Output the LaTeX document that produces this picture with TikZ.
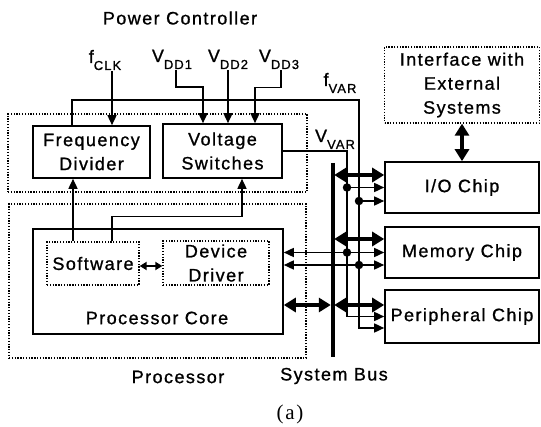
\documentclass[tikz,border=0pt]{standalone}
\usepackage{fontspec}
\usetikzlibrary{arrows.meta}
\newfontfamily\diagfont{Liberation Sans}[LetterSpace=8,FakeBold=1]
\newfontfamily\capfont{Liberation Serif}[LetterSpace=8]
\newcommand{\lowsub}[1]{\raisebox{-7pt}{\fontsize{13}{13}\selectfont #1}}

\begin{document}
\begin{tikzpicture}[x=1pt,y=-1pt,
  lbl/.style={font=\diagfont\fontsize{18}{24}\selectfont,inner sep=1pt,align=center},
  blockbox/.style={draw,line width=1.6pt,lbl},
  dotbox/.style={draw,line width=1.3pt,dash pattern=on 1.3pt off 1.5pt},
  wire/.style={line width=1.5pt},
  sig/.style={wire,-{Triangle[length=10pt,width=9pt]}},
  sigboth/.style={wire,{Triangle[length=10pt,width=9pt]}-{Triangle[length=10pt,width=9pt]}},
  busarr/.style={line width=3.8pt,{Triangle[length=12pt,width=14pt]}-{Triangle[length=12pt,width=14pt]}},
  smallarr/.style={line width=2pt,{Triangle[length=7pt,width=8pt]}-{Triangle[length=7pt,width=8pt]}},
  junc/.style={circle,fill,inner sep=0pt,minimum size=8.5pt}]
  \useasboundingbox (0,0) rectangle (541,427);

  % dotted groups
  \node[dotbox,minimum width=299pt,minimum height=78pt] (pctrl) at (157.5,153) {};
  \node[dotbox,minimum width=297pt,minimum height=154pt] (proc) at (157.5,281) {};
  \node[dotbox,lbl,minimum width=155pt,minimum height=76pt] (iface) at (462,85) {Interface with\\External\\Systems};

  % power controller blocks
  \node[blockbox,minimum width=117pt,minimum height=52pt] (fdiv) at (91.5,152) {Frequency\\Divider};
  \node[blockbox,minimum width=119pt,minimum height=54pt] (vsw) at (222.5,151) {Voltage\\Switches};

  % processor core
  \node[blockbox,minimum width=250pt,minimum height=105pt] (pcore) at (158,281.5) {};
  \node[lbl] (pcorename) at (157,318) {Processor Core};
  \node[dotbox,lbl,minimum width=92pt,minimum height=43pt] (soft) at (93,263.5) {Software};
  \node[dotbox,lbl,minimum width=106pt,minimum height=44pt] (ddrv) at (216,263) {Device\\Driver};

  % chips
  \node[blockbox,minimum width=154pt,minimum height=51pt] (iochip) at (462,187.5) {I/O Chip};
  \node[blockbox,minimum width=154pt,minimum height=51pt] (memchip) at (462,252.5) {Memory Chip};
  \node[blockbox,minimum width=154pt,minimum height=53pt] (perchip) at (462,316.5) {Peripheral Chip};

  % labels
  \node[lbl] (pctrlname) at (180,18) {Power Controller};
  \node[lbl,anchor=base] (fclk) at (105,63) {f\lowsub{CLK}};
  \node[lbl,anchor=base] (vdd1) at (172,62) {V\lowsub{DD1}};
  \node[lbl,anchor=base] (vdd2) at (228,62) {V\lowsub{DD2}};
  \node[lbl,anchor=base] (vdd3) at (279,62) {V\lowsub{DD3}};
  \node[lbl,anchor=base] (fvar) at (340,86) {f\lowsub{VAR}};
  \node[lbl,anchor=base] (vvar) at (335,142) {V\lowsub{VAR}};
  \node[lbl] (procname) at (178,377) {Processor};
  \node[lbl] (busname) at (334,376) {System Bus};
  \node[font=\capfont\fontsize{21}{24}\selectfont] (caption) at (290,414) {(a)};

  % supply and clock inputs
  \draw[sig] ([xshift=7pt]fclk.south) -- ([xshift=7pt]fclk.south |- fdiv.north);
  \draw[sig] ([xshift=4pt]vdd1.south) -- ++(0,17) -| ([xshift=-19.5pt]vsw.north);
  \draw[sig] (vdd2.south) -- (vdd2.south |- vsw.north);
  \draw[sig] ([xshift=2pt]vdd3.south) -- ++(0,17) -| ([xshift=32.5pt]vsw.north);

  % system bus
  \coordinate (bustop) at (333,163);
  \coordinate (busbot) at (333,357);
  \draw[line width=4.5pt] (bustop) -- (busbot);

  % f_VAR and V_VAR distribution
  \coordinate (fvarbend) at (359,100);
  \coordinate (vvarbend) at (347,151);
  \draw[sig] ([xshift=-19.5pt]fdiv.north) |- (fvarbend) |- ([yshift=-11.5pt]perchip.west);
  \draw[sig] (vsw.east) -- (vvarbend) |- (perchip.west);
  \node[junc] (jv1) at (347,187.5) {};
  \node[junc] (jv2) at (347,252.5) {};
  \node[junc] (jf1) at (359,201) {};
  \node[junc] (jf2) at (359,265) {};
  \draw[sig] (jv1) -- (jv1 -| iochip.west);
  \draw[sig] (jf1) -- (jf1 -| iochip.west);
  \draw[sigboth] (jv2 -| pcore.east) -- (jv2 -| memchip.west);
  \draw[sigboth] (jf2 -| pcore.east) -- (jf2 -| memchip.west);

  % bus links
  \draw[busarr] ([yshift=12.5pt]iochip.west) -- ++(-50,0);
  \draw[busarr] ([yshift=13.5pt]memchip.west) -- ++(-50,0);
  \draw[busarr] ([yshift=11.5pt]perchip.west) -- ++(-50,0);
  \draw[busarr] ([yshift=-23.5pt]pcore.east) -- ++(47,0);
  \draw[busarr] (iface.south) -- (iface.south |- iochip.north);

  % software control
  \draw[sig] ([xshift=-20pt]soft.north) -- ([xshift=-20pt]soft.north |- fdiv.south);
  \draw[sig] ([xshift=19pt]soft.north) -- ++(0,-25) -| ([xshift=19.5pt]vsw.south);
  \draw[smallarr] ([yshift=-2.5pt]soft.east) -- ([yshift=-2.5pt]soft.east -| ddrv.west);
\end{tikzpicture}
\end{document}
